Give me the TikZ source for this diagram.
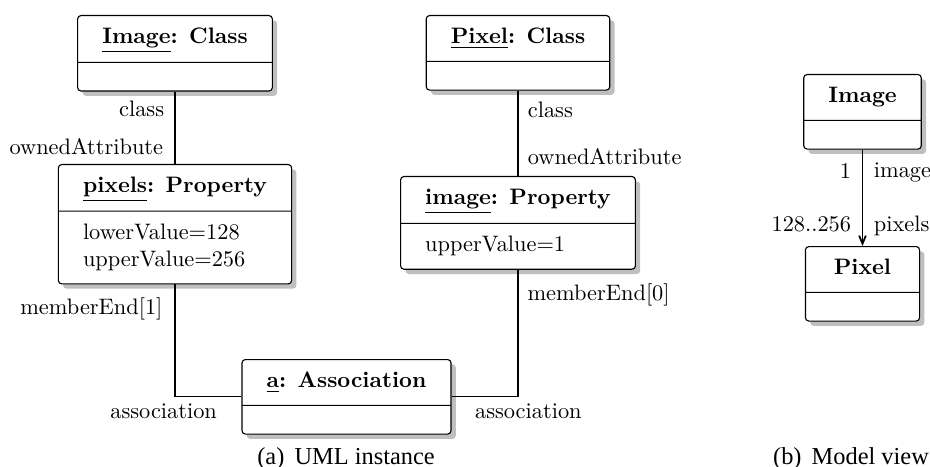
\documentclass[tikz,border=0pt]{standalone}
\usepackage{fontspec}
\newfontfamily\capfont{Liberation Serif}
\usetikzlibrary{shapes.multipart,shadows,arrows.meta}

\tikzset{
	umlobj/.style={rectangle split, rectangle split parts=2, draw, line width=0.5pt,
		rounded corners=1.5pt, fill=white, drop shadow, inner xsep=11pt, inner ysep=4pt,
		rectangle split part align={center,left}, align=left,
		rectangle split empty part height=2.3pt, rectangle split empty part depth=0pt},
	lbl/.style={inner sep=0pt},
	ownline/.style={line width=0.8pt},
	endline/.style={line width=0.5pt},
	capt/.style={inner sep=0pt, font=\capfont\fontsize{10.9}{13}\selectfont}
}

\begin{document}
\begin{tikzpicture}[x=0.447pt,y=-0.447pt]
		\useasboundingbox (0,0) rectangle (930,467);

		%instance objects
		\node[umlobj, anchor=north] (imgcls) at (175,15) {{\bfseries\underline{Image}: Class}\strut \nodepart{two}};
		\node[umlobj, anchor=north] (pixcls) at (518,15) {{\bfseries\underline{Pixel}: Class}\strut \nodepart{two}};
		\node[umlobj, anchor=north] (pixelsprop) at (175,164) {{\bfseries\underline{pixels}: Property}\strut
			\nodepart{two}\strut lowerValue=128\\\strut upperValue=256};
		\node[umlobj, anchor=north] (imageprop) at (518,176) {{\bfseries\underline{image}: Property}\strut
			\nodepart{two}\strut upperValue=1};
		\node[umlobj, anchor=north] (assoc) at (346.5,359) {{\bfseries\underline{a}: Association}\strut \nodepart{two}};

		%class links
		\draw[ownline] (imgcls.south) -- (pixelsprop.north)
			node[lbl, pos=0, anchor=base east, shift={(-10,25)}] {class}
			node[lbl, pos=1, anchor=base east, shift={(-11,-9)}] {ownedAttribute};
		\draw[ownline] (pixcls.south) -- (imageprop.north)
			node[lbl, pos=0, anchor=base west, shift={(9,27)}] {class}
			node[lbl, pos=1, anchor=base west, shift={(9,-11)}] {ownedAttribute};

		%member ends
		\draw[endline] (pixelsprop.south) |- (assoc.west)
			node[lbl, pos=0, anchor=base east, shift={(-12,30)}] {memberEnd[1]}
			node[lbl, pos=1, anchor=base east, shift={(-24,22)}] {association};
		\draw[endline] (imageprop.south) |- (assoc.east)
			node[lbl, pos=0, anchor=base west, shift={(9,31)}] {memberEnd[0]}
			node[lbl, pos=1, anchor=base west, shift={(23,22)}] {association};

		%model view
		\node[umlobj, anchor=north] (mimage) at (862.5,74) {\textbf{Image}\strut \nodepart{two}};
		\node[umlobj, anchor=north, minimum width=51pt] (mpixel) at (862.5,246) {\textbf{Pixel}\strut \nodepart{two}};
		\draw[ownline, -{Straight Barb[length=3.6pt,width=3pt]}] (mimage.south) -- (mpixel.north)
			node[lbl, pos=0, anchor=base east, shift={(-10.5,29)}] {1}
			node[lbl, pos=0, anchor=base west, shift={(10.5,28)}] {image}
			node[lbl, pos=1, anchor=base east, shift={(-10.5,-14)}] {128..256}
			node[lbl, pos=1, anchor=base west, shift={(10.5,-14)}] {pixels};

		%captions
		\node[capt, anchor=base] (capa) at (346,464) {(a)\, UML instance};
		\node[capt, anchor=base] (capb) at (851,464) {(b)\, Model view};
\end{tikzpicture}
\end{document}
